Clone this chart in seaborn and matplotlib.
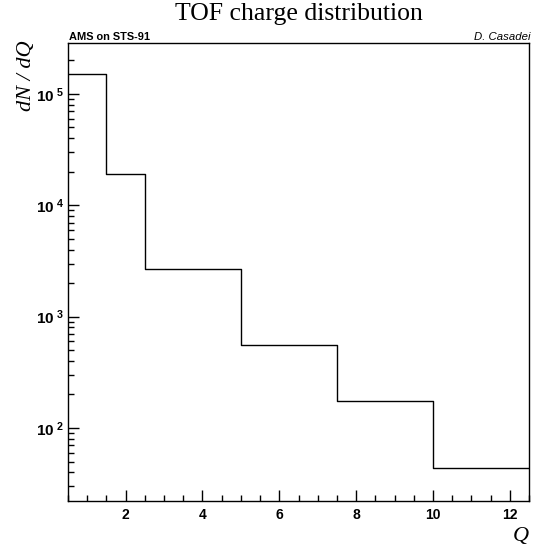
import numpy as np
import pandas as pd
import matplotlib
matplotlib.use("Agg")
import matplotlib.pyplot as plt
import seaborn as sns
from matplotlib.ticker import LogLocator, MultipleLocator, FixedLocator, FuncFormatter, NullFormatter

# Data
bin_edges = [0.5, 1.5, 2.5, 5.0, 7.5, 10.0, 12.5]
counts = [1.51e5, 1.92e4, 2.68e3, 557, 175, 44]
x_ticks = [2, 4, 6, 8, 10, 12]
y_decades = [2, 3, 4, 5]

sns.set_theme(style="white", rc={"text.color": "black", "axes.labelcolor": "black",
                                 "xtick.color": "black", "ytick.color": "black"})
plt.rcParams["font.family"] = ["Liberation Sans", "DejaVu Sans"]
plt.rcParams["mathtext.fontset"] = "custom"
plt.rcParams["mathtext.rm"] = "Liberation Sans:bold"
plt.rcParams["mathtext.bf"] = "Liberation Sans:bold"
plt.rcParams["mathtext.it"] = "Liberation Sans:bold"

centers = [(a + b) / 2 for a, b in zip(bin_edges[:-1], bin_edges[1:])]
df = pd.DataFrame({"Q": centers, "w": counts})

fig = plt.figure(figsize=(5.33, 5.51), dpi=100)
ax = fig.add_axes([68 / 533, 1 - 501 / 551, (529 - 68) / 533, (501 - 43) / 551])

sns.histplot(data=df, x="Q", weights="w", bins=bin_edges, element="step",
             fill=False, color="black", linewidth=1.0, ax=ax)
ax.set_yscale("log")
ax.set_xlim(0.5, 12.5)
ax.set_ylim(22.1, 2.87e5)

for s in ax.spines.values():
    s.set_color("black")
    s.set_linewidth(1.0)

ax.xaxis.set_major_locator(FixedLocator(x_ticks))
ax.xaxis.set_minor_locator(MultipleLocator(0.5))
ax.xaxis.set_major_formatter(FuncFormatter(lambda v, p: f"{int(v)}"))
ax.yaxis.set_major_locator(FixedLocator([10.0 ** d for d in y_decades]))
ax.yaxis.set_minor_locator(LogLocator(base=10, subs=np.arange(2, 10)))
ax.yaxis.set_minor_formatter(NullFormatter())
ax.yaxis.set_major_formatter(FuncFormatter(
    lambda v, p: r"$\mathbf{10}^{\ \mathbf{%d}}$" % int(round(np.log10(v)))))

ax.tick_params(axis="x", which="major", direction="in", length=8, width=1,
               color="black", labelcolor="black", labelsize=10, pad=5)
ax.tick_params(axis="y", which="major", direction="in", length=8, width=1,
               color="black", labelcolor="black", labelsize=11, pad=3)
ax.tick_params(axis="both", which="minor", direction="in", length=4.5, width=1,
               color="black")
ax.tick_params(axis="both", which="both", left=True, bottom=True, top=False, right=False)
for lab in ax.get_xticklabels() + ax.get_yticklabels():
    lab.set_fontweight("bold")

ax.set_xlabel("")
ax.set_ylabel("")
ax.grid(False)

serif = ["Liberation Serif", "DejaVu Serif"]
fig.text(298.5 / 533, 1 - 3 / 551, "TOF charge distribution", ha="center", va="top",
         fontsize=18.5, family=serif, color="black")
fig.text(69 / 533, 1 - 39.5 / 551, "AMS on STS-91", ha="left", va="baseline",
         fontsize=7.9, fontweight="bold", color="black")
fig.text(530 / 533, 1 - 39.5 / 551, "D. Casadei", ha="right", va="baseline",
         fontsize=8.2, style="italic", color="black")
fig.text(26 / 533, 1 - 40 / 551, "dN / dQ", ha="center", va="top", rotation=90,
         fontsize=16, style="italic", family=serif, color="black")
fig.text(529 / 533, 1 - 546 / 551, "Q", ha="right", va="bottom",
         fontsize=16, style="italic", family=serif, color="black")

fig.savefig("out.png", dpi=100)
